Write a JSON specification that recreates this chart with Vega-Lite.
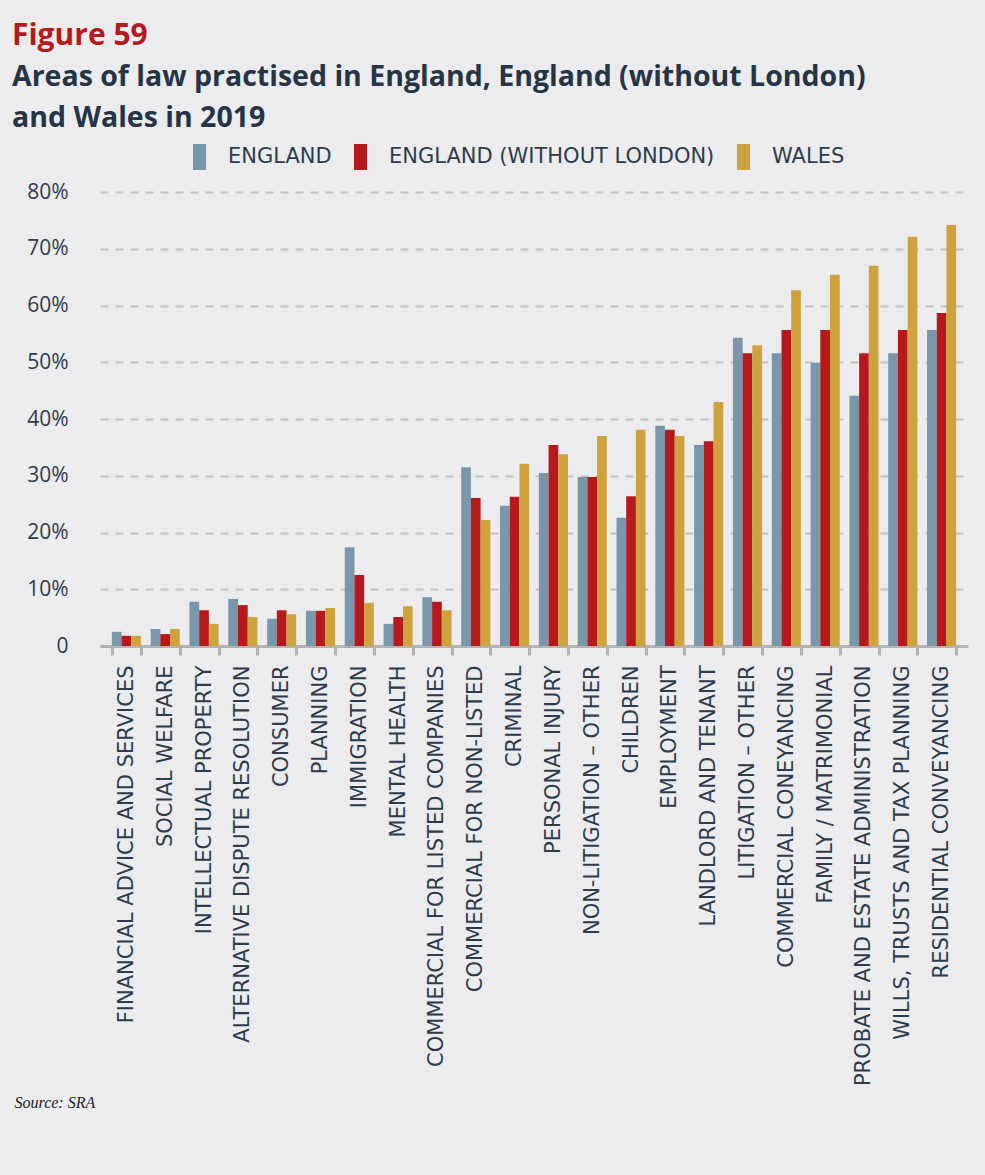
{
  "$schema": "https://vega.github.io/schema/vega-lite/v6.json",
  "autosize": {"type": "none"},
  "width": 868,
  "height": 454,
  "padding": {"left": 100, "top": 192, "right": 17, "bottom": 529},
  "background": "#ececee",
  "title": {
    "text": "Figure 59",
    "subtitle": ["Areas of law practised in England, England (without London)", "and Wales in 2019"],
    "anchor": "start",
    "frame": "group",
    "dx": -88,
    "offset": 12,
    "font": "Open Sans",
    "fontSize": 30,
    "fontWeight": "bold",
    "color": "#b41a1d",
    "subtitleFont": "Open Sans",
    "subtitleFontSize": 28.5,
    "subtitleFontWeight": "bold",
    "subtitleColor": "#253446",
    "subtitleLineHeight": 41,
    "subtitlePadding": 12
  },
  "data": {
    "values": [
      {"area": "Financial advice and services", "region": "England", "pct": 2.5},
      {"area": "Financial advice and services", "region": "England (without London)", "pct": 1.8},
      {"area": "Financial advice and services", "region": "Wales", "pct": 1.8},
      {"area": "Social welfare", "region": "England", "pct": 3.0},
      {"area": "Social welfare", "region": "England (without London)", "pct": 2.1},
      {"area": "Social welfare", "region": "Wales", "pct": 3.0},
      {"area": "Intellectual property", "region": "England", "pct": 7.8},
      {"area": "Intellectual property", "region": "England (without London)", "pct": 6.3},
      {"area": "Intellectual property", "region": "Wales", "pct": 3.9},
      {"area": "Alternative dispute resolution", "region": "England", "pct": 8.3},
      {"area": "Alternative dispute resolution", "region": "England (without London)", "pct": 7.2},
      {"area": "Alternative dispute resolution", "region": "Wales", "pct": 5.1},
      {"area": "Consumer", "region": "England", "pct": 4.8},
      {"area": "Consumer", "region": "England (without London)", "pct": 6.3},
      {"area": "Consumer", "region": "Wales", "pct": 5.6},
      {"area": "Planning", "region": "England", "pct": 6.2},
      {"area": "Planning", "region": "England (without London)", "pct": 6.2},
      {"area": "Planning", "region": "Wales", "pct": 6.7},
      {"area": "Immigration", "region": "England", "pct": 17.4},
      {"area": "Immigration", "region": "England (without London)", "pct": 12.5},
      {"area": "Immigration", "region": "Wales", "pct": 7.6},
      {"area": "Mental health", "region": "England", "pct": 3.9},
      {"area": "Mental health", "region": "England (without London)", "pct": 5.1},
      {"area": "Mental health", "region": "Wales", "pct": 7.0},
      {"area": "Commercial for listed companies", "region": "England", "pct": 8.6},
      {"area": "Commercial for listed companies", "region": "England (without London)", "pct": 7.8},
      {"area": "Commercial for listed companies", "region": "Wales", "pct": 6.3},
      {"area": "Commercial for non-listed", "region": "England", "pct": 31.5},
      {"area": "Commercial for non-listed", "region": "England (without London)", "pct": 26.1},
      {"area": "Commercial for non-listed", "region": "Wales", "pct": 22.2},
      {"area": "Criminal", "region": "England", "pct": 24.7},
      {"area": "Criminal", "region": "England (without London)", "pct": 26.3},
      {"area": "Criminal", "region": "Wales", "pct": 32.1},
      {"area": "Personal injury", "region": "England", "pct": 30.5},
      {"area": "Personal injury", "region": "England (without London)", "pct": 35.4},
      {"area": "Personal injury", "region": "Wales", "pct": 33.8},
      {"area": "Non-litigation – other", "region": "England", "pct": 29.8},
      {"area": "Non-litigation – other", "region": "England (without London)", "pct": 29.8},
      {"area": "Non-litigation – other", "region": "Wales", "pct": 37.0},
      {"area": "Children", "region": "England", "pct": 22.6},
      {"area": "Children", "region": "England (without London)", "pct": 26.4},
      {"area": "Children", "region": "Wales", "pct": 38.1},
      {"area": "Employment", "region": "England", "pct": 38.8},
      {"area": "Employment", "region": "England (without London)", "pct": 38.1},
      {"area": "Employment", "region": "Wales", "pct": 37.0},
      {"area": "Landlord and tenant", "region": "England", "pct": 35.4},
      {"area": "Landlord and tenant", "region": "England (without London)", "pct": 36.1},
      {"area": "Landlord and tenant", "region": "Wales", "pct": 43.0},
      {"area": "Litigation – other", "region": "England", "pct": 54.3},
      {"area": "Litigation – other", "region": "England (without London)", "pct": 51.6},
      {"area": "Litigation – other", "region": "Wales", "pct": 53.0},
      {"area": "Commercial coneyancing", "region": "England", "pct": 51.6},
      {"area": "Commercial coneyancing", "region": "England (without London)", "pct": 55.7},
      {"area": "Commercial coneyancing", "region": "Wales", "pct": 62.7},
      {"area": "Family / matrimonial", "region": "England", "pct": 49.9},
      {"area": "Family / matrimonial", "region": "England (without London)", "pct": 55.7},
      {"area": "Family / matrimonial", "region": "Wales", "pct": 65.4},
      {"area": "Probate and estate administration", "region": "England", "pct": 44.1},
      {"area": "Probate and estate administration", "region": "England (without London)", "pct": 51.6},
      {"area": "Probate and estate administration", "region": "Wales", "pct": 67.0},
      {"area": "Wills, trusts and tax planning", "region": "England", "pct": 51.6},
      {"area": "Wills, trusts and tax planning", "region": "England (without London)", "pct": 55.7},
      {"area": "Wills, trusts and tax planning", "region": "Wales", "pct": 72.1},
      {"area": "Residential conveyancing", "region": "England", "pct": 55.7},
      {"area": "Residential conveyancing", "region": "England (without London)", "pct": 58.7},
      {"area": "Residential conveyancing", "region": "Wales", "pct": 74.2}
    ]
  },
  "mark": {"type": "bar"},
  "encoding": {
    "x": {
      "field": "area",
      "type": "nominal",
      "sort": null,
      "scale": {"paddingInner": 0.25, "paddingOuter": 0.305},
      "axis": {
        "title": "Source: SRA",
        "titleFont": "Liberation Serif",
        "titleFontStyle": "italic",
        "titleFontWeight": "normal",
        "titleFontSize": 16,
        "titleColor": "#222222",
        "titleAlign": "left",
        "titleAnchor": "start",
        "titleBaseline": "alphabetic",
        "titleX": -86,
        "titleY": 461,
        "labelAngle": -90,
        "labelAlign": "right",
        "labelBaseline": "middle",
        "labelFont": "DejaVu Sans",
        "labelFontSize": 21,
        "labelColor": "#2c3c4d",
        "labelPadding": 10,
        "labelExpr": "upper(datum.label)",
        "labelLimit": 600,
        "tickBand": "extent",
        "tickSize": 9,
        "tickWidth": 3,
        "tickColor": "#b3b3b3",
        "domainColor": "#b3b3b3",
        "domainWidth": 3,
        "grid": false
      }
    },
    "xOffset": {
      "field": "region",
      "type": "nominal",
      "sort": ["England", "England (without London)", "Wales"],
      "scale": {"paddingInner": 0, "paddingOuter": 0}
    },
    "y": {
      "field": "pct",
      "type": "quantitative",
      "scale": {"domain": [0, 80], "nice": false},
      "axis": {
        "title": null,
        "values": [0, 10, 20, 30, 40, 50, 60, 70, 80],
        "labelExpr": "datum.value == 0 ? '0' : datum.value + '%'",
        "labelFont": "Open Sans",
        "labelFontSize": 21,
        "labelColor": "#2c3c4d",
        "labelPadding": 32,
        "domain": false,
        "ticks": false,
        "grid": true,
        "gridColor": "#c2c2c2",
        "gridDash": [8, 7],
        "gridWidth": 2
      }
    },
    "color": {
      "field": "region",
      "type": "nominal",
      "sort": ["England", "England (without London)", "Wales"],
      "scale": {
        "domain": ["England", "England (without London)", "Wales"],
        "range": ["#7997ab", "#b5191b", "#cea33e"]
      },
      "legend": {
        "orient": "none",
        "legendX": 93,
        "legendY": -48,
        "direction": "horizontal",
        "title": null,
        "padding": 0,
        "symbolType": "M-1,-1H0V1H-1Z",
        "symbolSize": 676,
        "symbolStrokeWidth": 0,
        "symbolOpacity": 1,
        "labelFont": "DejaVu Sans",
        "labelFontSize": 21,
        "labelColor": "#2c3c4d",
        "labelOffset": 9,
        "columnPadding": 22,
        "labelExpr": "upper(datum.label)",
        "labelLimit": 500
      }
    }
  },
  "config": {
    "view": {"stroke": null}
  }
}
